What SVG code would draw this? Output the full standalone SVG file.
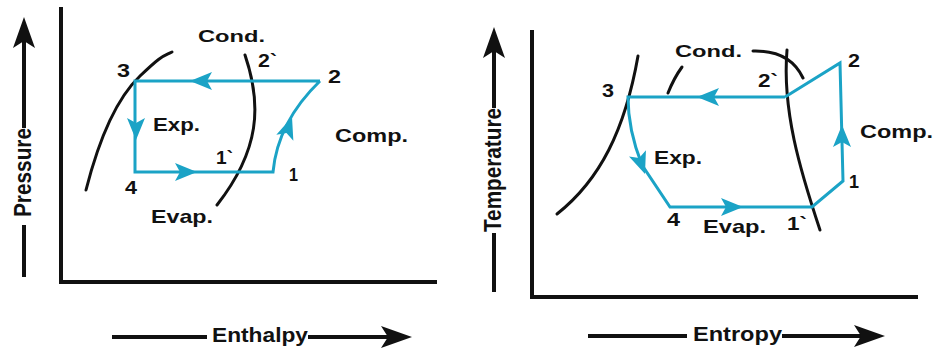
<svg xmlns="http://www.w3.org/2000/svg" width="937" height="350" viewBox="0 0 937 350">
<style>
.ax{stroke:#111;stroke-width:4;fill:none}
.cv{stroke:#111;stroke-width:3;fill:none;stroke-linecap:round}
.cy{stroke:#1ba3c6;stroke-width:3;fill:none;stroke-linejoin:miter}
.t{font-family:"Liberation Sans",Arial,sans-serif;font-weight:bold;fill:#111}
.n{font-size:18px}
.lb{font-size:18px}
.big{font-size:21px}
</style>
<defs>
<path id="ch" d="M0,0 L-22,-9 L-17,0 L-22,9 Z" fill="#1ba3c6"/>
<path id="axh" d="M0,0 L-31,-11 L-24,0 L-31,11 Z" fill="#111"/>
</defs>
<rect width="937" height="350" fill="#fff"/>

<g id="left-chart">
  <g id="left-axes">
    <path class="ax" d="M61,7 L61,282 L437,282"/>
    <path class="ax" d="M24,277 L24,225 M24,128 L24,40"/>
    <use href="#axh" transform="translate(24,17) rotate(-90)"/>
    <path class="ax" d="M112,337 L207,337 M308,337 L390,337"/>
    <use href="#axh" transform="translate(412,337)"/>
    <text class="t" font-size="23" textLength="89" lengthAdjust="spacingAndGlyphs" transform="translate(31,217) rotate(-90)">Pressure</text>
    <text class="t big" x="212" y="342" textLength="96" lengthAdjust="spacingAndGlyphs">Enthalpy</text>
  </g>
  <g id="left-curves">
    <path class="cv" d="M86,190 C100,135 118,97 140,76 S162,57 172,52"/>
    <path class="cv" d="M245,55 C262,105 260,150 217,205"/>
  </g>
  <g id="left-cycle">
    <path class="cy" d="M320,81 L135,81 L135,172 L273,172 C276,140 290,110 320,81"/>
    <use href="#ch" transform="translate(190,81) rotate(180)"/>
    <use href="#ch" transform="translate(136,140) rotate(90)"/>
    <use href="#ch" transform="translate(197,172)"/>
    <use href="#ch" transform="translate(292,117) rotate(-71)"/>
  </g>
  <g id="left-labels">
    <text class="t" font-size="17" x="198" y="42" textLength="67" lengthAdjust="spacingAndGlyphs">Cond.</text>
    <text class="t n" x="258" y="67" textLength="19" lengthAdjust="spacingAndGlyphs">2`</text>
    <text class="t n" x="328" y="83" textLength="13" lengthAdjust="spacingAndGlyphs">2</text>
    <text class="t n" x="117" y="77" textLength="13" lengthAdjust="spacingAndGlyphs">3</text>
    <text class="t lb" x="153" y="131" textLength="47" lengthAdjust="spacingAndGlyphs">Exp.</text>
    <text class="t" font-size="19" x="335" y="142" textLength="73" lengthAdjust="spacingAndGlyphs">Comp.</text>
    <text class="t n" x="216" y="164" textLength="17" lengthAdjust="spacingAndGlyphs">1`</text>
    <text class="t n" x="289" y="181" textLength="9" lengthAdjust="spacingAndGlyphs">1</text>
    <text class="t n" x="125" y="194" textLength="12" lengthAdjust="spacingAndGlyphs">4</text>
    <text class="t" font-size="19" x="151" y="223" textLength="62" lengthAdjust="spacingAndGlyphs">Evap.</text>
  </g>
</g>

<g id="right-chart">
  <g id="right-axes">
    <path class="ax" d="M532,30 L532,297 L918,297"/>
    <path class="ax" d="M494,292 L494,233 M494,108 L494,50"/>
    <use href="#axh" transform="translate(494,27) rotate(-90)"/>
    <path class="ax" d="M588,336 L687,336 M782,336 L863,336"/>
    <use href="#axh" transform="translate(885,336)"/>
    <text class="t" font-size="23" textLength="124" lengthAdjust="spacingAndGlyphs" transform="translate(501,232) rotate(-90)">Temperature</text>
    <text class="t big" x="693" y="341" textLength="89" lengthAdjust="spacingAndGlyphs">Entropy</text>
  </g>
  <g id="right-curves">
    <path class="cv" d="M557,214 C600,180 625,130 638,56"/>
    <path class="cv" d="M787,50 C782,110 800,170 820,230"/>
    <path class="cv" d="M753,51 Q790,50 803,78"/>
    <path class="cv" d="M668,93 Q674,78 682,67"/>
  </g>
  <g id="right-cycle">
    <path class="cy" d="M785,97 L628,97 C628,120 632,140 642,165 L670,207 L812,207 L843,181 L840,63 L785,97"/>
    <use href="#ch" transform="translate(697,97) rotate(180)"/>
    <use href="#ch" transform="translate(645,174) rotate(70)"/>
    <use href="#ch" transform="translate(743,207)"/>
    <use href="#ch" transform="translate(842,125) rotate(-90)"/>
  </g>
  <g id="right-labels">
    <text class="t" font-size="17" x="675" y="57" textLength="67" lengthAdjust="spacingAndGlyphs">Cond.</text>
    <text class="t n" x="758" y="87" textLength="20" lengthAdjust="spacingAndGlyphs">2`</text>
    <text class="t n" x="848" y="67" textLength="12" lengthAdjust="spacingAndGlyphs">2</text>
    <text class="t n" x="602" y="97" textLength="12" lengthAdjust="spacingAndGlyphs">3</text>
    <text class="t" font-size="19" x="860" y="138" textLength="73" lengthAdjust="spacingAndGlyphs">Comp.</text>
    <text class="t lb" x="654" y="164" textLength="48" lengthAdjust="spacingAndGlyphs">Exp.</text>
    <text class="t n" x="849" y="188" textLength="10" lengthAdjust="spacingAndGlyphs">1</text>
    <text class="t n" x="667" y="226" textLength="13" lengthAdjust="spacingAndGlyphs">4</text>
    <text class="t" font-size="19" x="703" y="233" textLength="63" lengthAdjust="spacingAndGlyphs">Evap.</text>
    <text class="t n" x="787" y="230" textLength="20" lengthAdjust="spacingAndGlyphs">1`</text>
  </g>
</g>
</svg>
